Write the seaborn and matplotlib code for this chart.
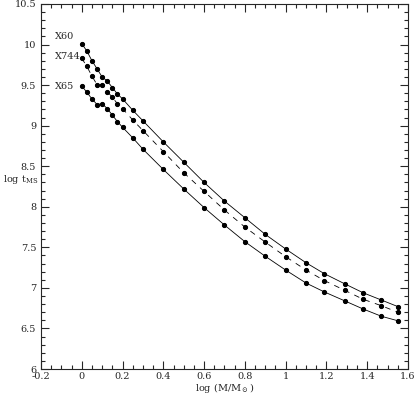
import pandas as pd
import numpy as np
import seaborn as sns
import matplotlib.pyplot as plt
from matplotlib.ticker import MultipleLocator, FuncFormatter

# log(M/Msun) grid shared by the three tracks
log_m = [0.0, 0.025, 0.05, 0.075, 0.1, 0.125, 0.15, 0.175, 0.2, 0.25, 0.3,
         0.4, 0.5, 0.6, 0.7, 0.8, 0.9, 1.0, 1.1, 1.19, 1.29, 1.38, 1.47, 1.55]

x60 = [10.01, 9.92, 9.80, 9.70, 9.60, 9.55, 9.47, 9.39, 9.33, 9.19, 9.06,
       8.80, 8.55, 8.30, 8.07, 7.865, 7.66, 7.48, 7.31, 7.175, 7.05, 6.94, 6.85, 6.77]
x744 = [9.83, 9.73, 9.61, 9.505, 9.505, 9.42, 9.35, 9.27, 9.21, 9.07, 8.94,
        8.68, 8.42, 8.19, 7.96, 7.75, 7.565, 7.385, 7.22, 7.09, 6.97, 6.86, 6.78, 6.70]
x65 = [9.49, 9.41, 9.33, 9.26, 9.27, 9.21, 9.13, 9.05, 8.98, 8.85, 8.71,
       8.46, 8.22, 7.99, 7.775, 7.57, 7.39, 7.22, 7.06, 6.95, 6.84, 6.74, 6.65, 6.595]

labels = ['X60', 'X744', 'X65']
label_y = [10.1, 9.85, 9.48]
styles = ['-', (0, (4, 4)), '-']

sns.set_style('ticks')
plt.rcParams['font.family'] = ['DejaVu Serif']
plt.rcParams['mathtext.fontset'] = 'dejavuserif'
plt.rcParams['lines.scale_dashes'] = False

fig = plt.figure(figsize=(4.15, 3.97), dpi=100)
ax = fig.add_axes([0.0988, 0.0705, 0.8842, 0.9195])

for name, vals, ls, ly in zip(labels, [x60, x744, x65], styles, label_y):
    df = pd.DataFrame({'logm': log_m, 'logt': vals})
    sns.lineplot(data=df, x='logm', y='logt', ax=ax, color='black',
                 linestyle=ls, linewidth=0.6, marker='o', markersize=3,
                 markeredgecolor='black', sort=False)
    ax.text(-0.132, ly, name, fontsize=7, va='center', ha='left')

ax.set_xlim(-0.2, 1.6)
ax.set_ylim(6, 10.5)
ax.xaxis.set_major_locator(MultipleLocator(0.2))
ax.xaxis.set_minor_locator(MultipleLocator(0.05))
ax.yaxis.set_major_locator(MultipleLocator(0.5))
ax.yaxis.set_minor_locator(MultipleLocator(0.1))
fmt = FuncFormatter(lambda v, p: '%g' % round(v, 2) if abs(v) > 1e-9 else '0')
ax.xaxis.set_major_formatter(fmt)
ax.yaxis.set_major_formatter(fmt)
ax.tick_params(which='both', direction='in', top=True, right=True,
               labelsize=7, width=0.8)
ax.tick_params(which='major', length=6)
ax.tick_params(axis='x', pad=2)
ax.tick_params(which='minor', length=3)
for s in ax.spines.values():
    s.set_linewidth(0.8)

ax.set_xlabel(r'log (M/M$_\odot$)', fontsize=7, labelpad=0)
ax.set_ylabel(r'log t$_{\rm MS}$', fontsize=7, rotation=0, labelpad=2)
ax.yaxis.set_label_coords(-0.055, 0.5)

plt.savefig('out.png', dpi=100)
